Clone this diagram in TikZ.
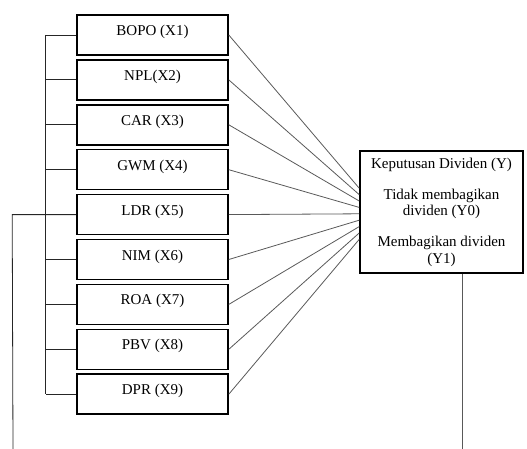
\documentclass[tikz,border=0pt]{standalone}
\usepackage{fontspec}
\setmainfont{Liberation Serif}
\usetikzlibrary{calc}
\begin{document}
\begin{tikzpicture}[x=1pt,y=1pt,
  xbox/.style={draw=black, line width=1.6pt, minimum width=151pt, inner xsep=0pt, inner ysep=0pt,
    text height=20.5pt, text depth=19.5pt, font=\fontsize{15}{16}\selectfont},
  ybox/.style={draw=black, line width=1.6pt, minimum width=163pt, minimum height=122pt, inner sep=0pt,
    align=center, font=\fontsize{15}{16.5}\selectfont},
  link/.style={draw=black!65, line width=0.8pt},
  brk/.style={draw=black!85, line width=0.8pt}]
\useasboundingbox (0,0) rectangle (527,-449);
\foreach \i/\t in {1/BOPO (X1),2/NPL(X2),3/CAR (X3),4/GWM (X4),5/LDR (X5),6/NIM (X6),7/ROA (X7),8/PBV (X8),9/DPR (X9)}
  \node[xbox] (x\i) at (152.5,{-35-(\i-1)*44.9}) {\t};
\node[ybox] (Y) at (441.5,-212) {Keputusan Dividen (Y)\\[14.5pt]Tidak membagikan\\dividen (Y0)\\[14.5pt]Membagikan dividen\\(Y1)};
% links to Y
\foreach \i in {1,...,9}
  \draw[link] (x\i.east) -- ($(Y.north west)+(0,{-38-(\i-1)*6.4})$);
% bracket
\foreach \i in {1,2,3,4,6,7,8,9}
  \coordinate (b\i) at ($(x\i.west)+(-30.5,0)$);
\coordinate (b5) at ($(x5.west)+(-30.5,0)$);
\foreach \i in {1,2,3,4,6,7,8,9}
  \draw[brk] (x\i.west) -- (b\i);
\draw[brk] (b1) -- (b9);
% LDR line down
\coordinate (l5) at ($(x5.west)+(-64,0)$);
\coordinate (l5b) at (13,-449);
\draw[brk] (x5.west) -- (l5) -- (l5b);
% Y line down
\coordinate (yb) at (462,-449);
\draw[link] (Y.south -| yb) -- (yb);
\end{tikzpicture}
\end{document}
